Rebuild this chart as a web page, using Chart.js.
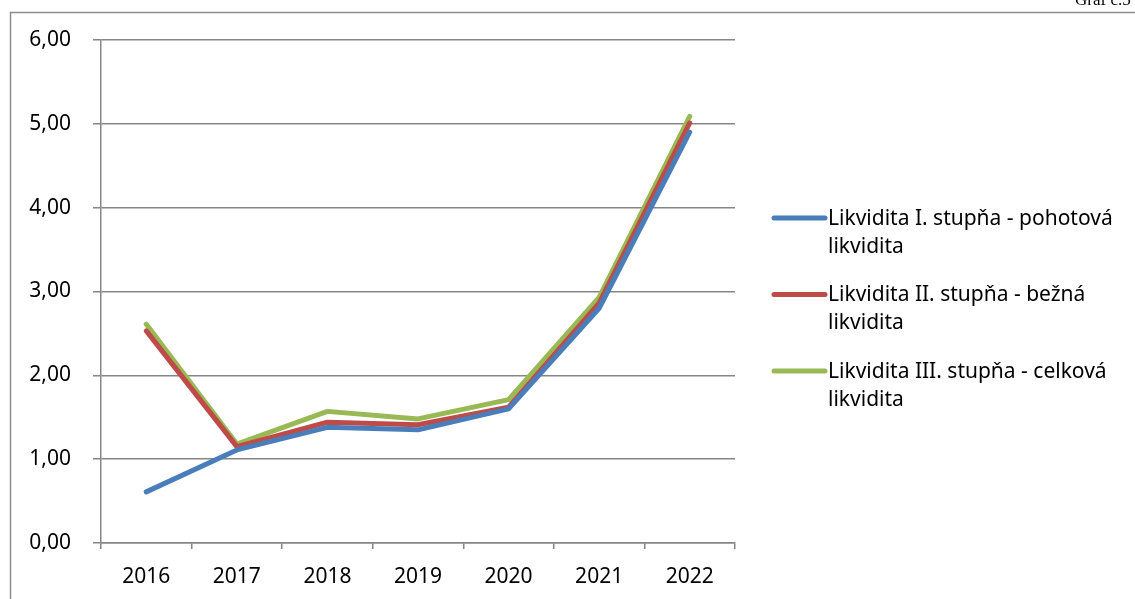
<!DOCTYPE html>
<html>
<head>
<meta charset="utf-8">
<script src="https://cdn.jsdelivr.net/npm/chart.js@4"></script>
<style>
  html, body { margin: 0; padding: 0; background: #fff; }
  #wrap { width: 1135px; height: 599px; }
</style>
</head>
<body>
<div id="wrap"><canvas id="likviditaChart"></canvas></div>
<script>
// Roky
const roky = ['2016', '2017', '2018', '2019', '2020', '2021', '2022'];

// Likvidita po stupňoch
const pohotova = [0.61, 1.11, 1.38, 1.35, 1.60, 2.80, 4.90];
const bezna = [2.53, 1.15, 1.44, 1.41, 1.62, 2.86, 5.01];
const celkova = [2.61, 1.18, 1.57, 1.48, 1.71, 2.93, 5.09];

// Popisy do legendy (dva riadky)
const nazvy = [
    ['Likvidita I. stupňa - pohotová', 'likvidita'],
    ['Likvidita II. stupňa - bežná', 'likvidita'],
    ['Likvidita III. stupňa - celková', 'likvidita']
];
const farby = ['#4A7EBB', '#BE4B48', '#98B954'];

const font = "'Noto Sans', sans-serif";

// Rám okolo grafu + nadpis vpravo hore
const ramPlugin = {
    id: 'ram',
    beforeDraw(chart) {
        const c = chart.ctx;
        c.save();
        c.strokeStyle = '#8c8c8c';
        c.lineWidth = 1.5;
        c.beginPath();
        c.moveTo(10.5, 600);
        c.lineTo(10.5, 12.5);
        c.lineTo(1136, 12.5);
        c.stroke();
        c.fillStyle = '#000';
        c.font = "17px 'Liberation Serif', serif";
        c.textBaseline = 'alphabetic';
        c.fillText('Graf č.5', 1075, 5);
        c.restore();
    }
};

// Vlastná legenda s dvojriadkovým textom
const legendaPlugin = {
    id: 'legenda',
    afterDraw(chart) {
        const c = chart.ctx;
        c.save();
        c.font = '21px ' + font;
        c.textBaseline = 'middle';
        c.fillStyle = '#000';
        chart.data.datasets.forEach((ds, i) => {
            const y = 218 + i * 76.5;
            c.strokeStyle = ds.borderColor;
            c.lineWidth = 5;
            c.lineCap = 'round';
            c.beginPath();
            c.moveTo(774, y);
            c.lineTo(825, y);
            c.stroke();
            nazvy[i].forEach((t, j) => c.fillText(t, 828, y + 1 + j * 28));
        });
        c.restore();
    }
};

const ctx = document.getElementById('likviditaChart').getContext('2d');
window.likviditaChart = new Chart(ctx, {
    type: 'line',
    data: {
        labels: roky,
        datasets: [
            { label: nazvy[0].join(' '), data: pohotova, borderColor: farby[0] },
            { label: nazvy[1].join(' '), data: bezna, borderColor: farby[1] },
            { label: nazvy[2].join(' '), data: celkova, borderColor: farby[2] }
        ].map(d => Object.assign(d, {
            borderWidth: 5,
            pointRadius: 0,
            tension: 0,
            fill: false,
            borderCapStyle: 'round',
            borderJoinStyle: 'round'
        }))
    },
    options: {
        responsive: true,
        maintainAspectRatio: false,
        animation: false,
        layout: { padding: { left: 0, top: 40, right: 400, bottom: 0 } },
        plugins: {
            legend: { display: false },
            tooltip: { enabled: false }
        },
        scales: {
            x: {
                offset: true,
                grid: { offset: true, drawOnChartArea: false, tickLength: 6, color: '#868686', lineWidth: 1.5 },
                border: { color: '#868686', width: 1.5 },
                ticks: { color: '#000', font: { family: font, size: 21 }, padding: 15, maxRotation: 0 },
                afterFit(s) { s.height = 56; }
            },
            y: {
                min: 0,
                max: 6,
                grid: { tickLength: 8, color: '#868686', lineWidth: 1.5 },
                border: { color: '#868686', width: 1.5 },
                ticks: {
                    stepSize: 1,
                    color: '#000',
                    font: { family: font, size: 21 },
                    padding: 22,
                    callback: v => v.toFixed(2).replace('.', ',')
                },
                afterFit(s) { s.width = 101; }
            }
        }
    },
    plugins: [ramPlugin, legendaPlugin]
});
</script>
</body>
</html>
